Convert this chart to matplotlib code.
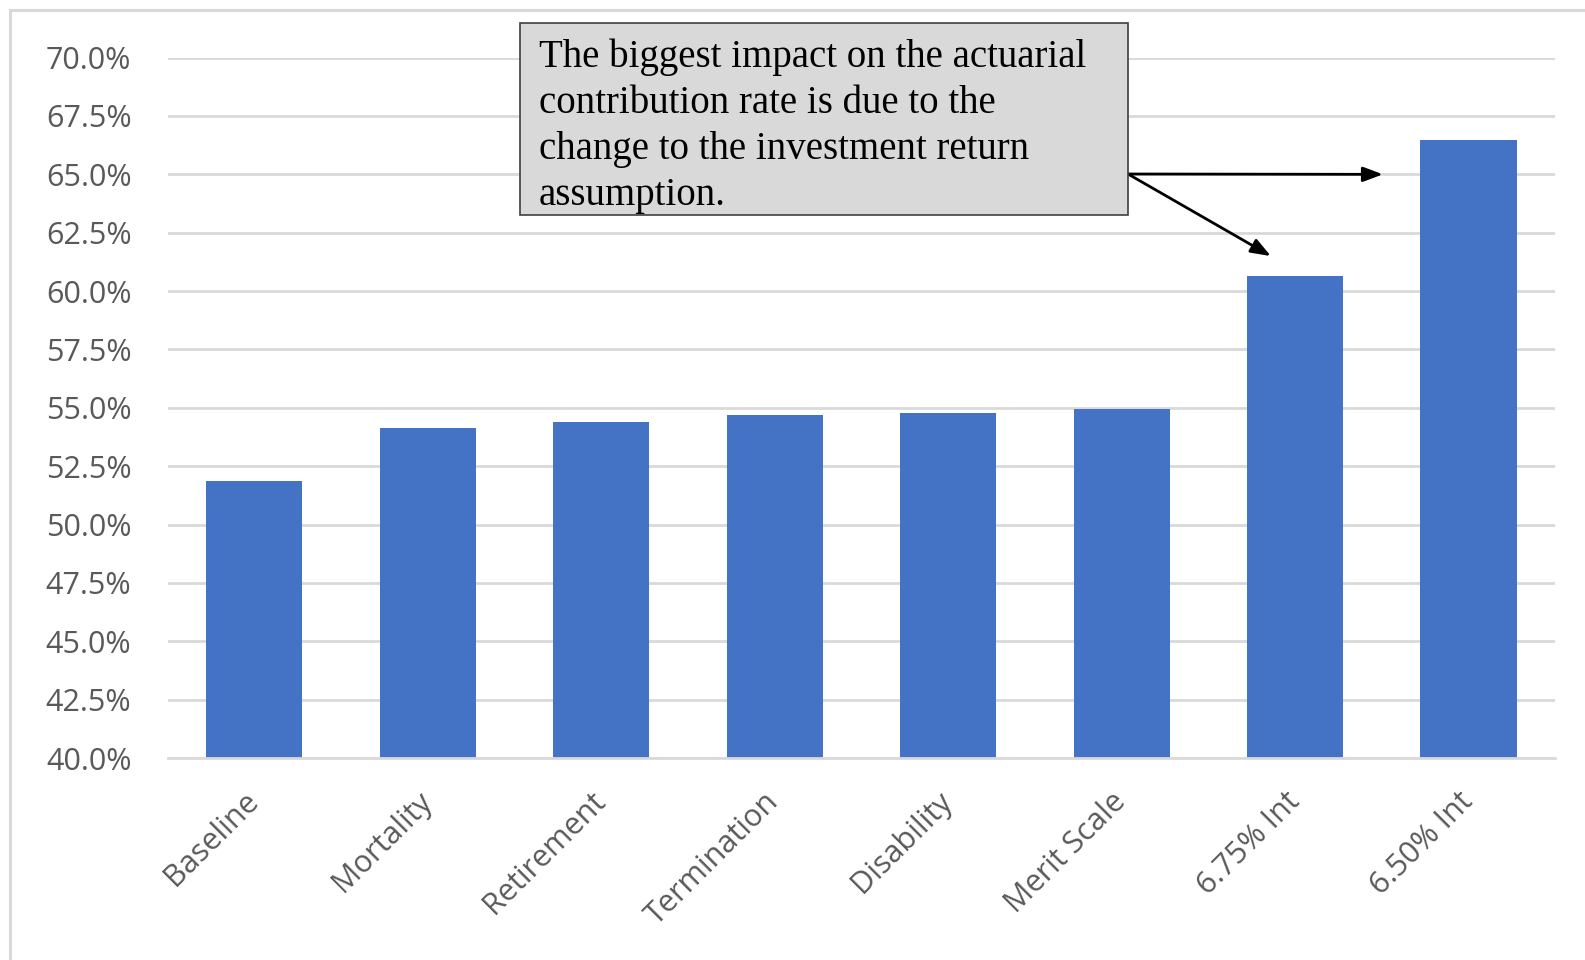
import matplotlib
matplotlib.use("Agg")
import matplotlib.pyplot as plt
from matplotlib.patches import Rectangle
from matplotlib.ticker import FuncFormatter, MultipleLocator

categories = ["Baseline", "Mortality", "Retirement", "Termination", "Disability",
              "Merit Scale", "6.75% Int", "6.50% Int"]
values = [51.85, 54.14, 54.40, 54.70, 54.78, 54.96, 60.64, 66.47]
annotation = ("The biggest impact on the actuarial\ncontribution rate is due to the\n"
              "change to the investment return\nassumption.")

W, H = 1585, 960
fig = plt.figure(figsize=(W / 100, H / 100), dpi=100)
fig.patch.set_facecolor("white")

# chart-area border (light gray, left and top visible)
fig.patches.append(Rectangle((10 / W, -0.1), 1.2, 1 - 10 / H + 0.1, transform=fig.transFigure,
                             facecolor="none", edgecolor="#d9d9d9", linewidth=2.2, zorder=0))

ax = fig.add_axes([0.1057, 0.2103, 0.9813 - 0.1057, 0.94 - 0.2103])
x = list(range(len(categories)))
ax.bar(x, values, width=0.555, bottom=0, color="#4472c4", zorder=3)
ax.set_ylim(40, 70)
ax.set_xlim(-0.5, len(categories) - 0.5)
ax.yaxis.set_major_locator(MultipleLocator(2.5))
ax.yaxis.set_major_formatter(FuncFormatter(lambda v, p: f"{v:.1f}%"))
ax.grid(axis="y", color="#d9d9d9", linewidth=2.0, zorder=0)
ax.set_axisbelow(True)
for s in ["top", "right", "left"]:
    ax.spines[s].set_visible(False)
ax.spines["bottom"].set_color("#d9d9d9")
ax.spines["bottom"].set_linewidth(2.0)
ax.spines["bottom"].set_zorder(4)
ax.tick_params(axis="both", length=0, labelsize=22, labelcolor="#595959")
ax.tick_params(axis="y", pad=26)
ax.set_xticks(x)
ax.set_xticklabels(categories, rotation=45, ha="right", va="center",
                   rotation_mode="anchor", fontfamily="Open Sans")
ax.tick_params(axis="x", pad=28)
for lab in ax.get_yticklabels():
    lab.set_fontfamily("Open Sans")

# annotation box
bx0, by0, bx1, by1 = 519.6, 23.2, 1128.0, 215.3
fig.patches.append(Rectangle((bx0 / W, 1 - by1 / H), (bx1 - bx0) / W, (by1 - by0) / H,
                             transform=fig.transFigure, facecolor="#d9d9d9",
                             edgecolor="#404040", linewidth=1.2, zorder=5))
fig.text(538.8 / W, 1 - 38 / H, annotation, fontsize=28, family="Liberation Serif",
         va="top", ha="left", linespacing=1.33, color="black", zorder=6)

# arrows from the box edge
start = (bx1 / W, 1 - 174 / H)
style = "-|>,head_length=1.2,head_width=0.45"
ax.annotate("", xy=(6.506, 65.0), xycoords="data", xytext=start, textcoords="figure fraction",
            arrowprops=dict(arrowstyle=style, color="black", lw=2.0, shrinkA=0, shrinkB=0),
            zorder=7)
ax.annotate("", xy=(5.86, 61.5), xycoords="data", xytext=start, textcoords="figure fraction",
            arrowprops=dict(arrowstyle=style, color="black", lw=2.0, shrinkA=0, shrinkB=0),
            zorder=7)

fig.savefig("out.png", dpi=100)
